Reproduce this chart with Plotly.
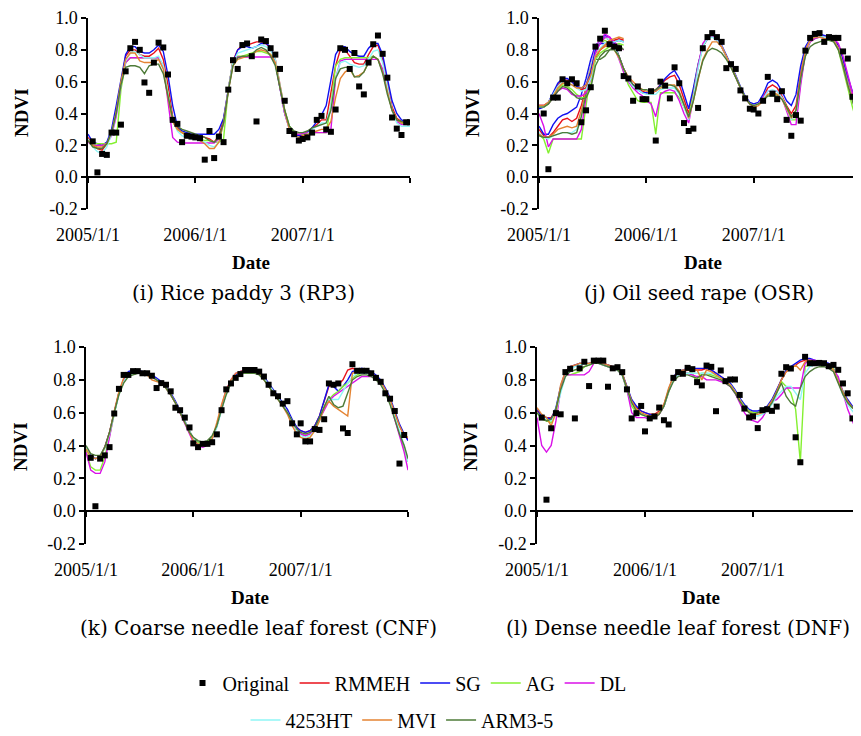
import datetime as dt
import plotly.graph_objects as go

# ---------------- categories (MODIS 16-day composite dates) ----------------
YEARS = [2005, 2006, 2007]
COMPOSITE_DOY = [1, 17, 33, 49, 65, 81, 97, 113, 129, 145, 161, 177, 193,
                 209, 225, 241, 257, 273, 289, 305, 321, 337, 353]
DATES = [(dt.date(y, 1, 1) + dt.timedelta(days=d - 1)).isoformat()
         for y in YEARS for d in COMPOSITE_DOY] + ["2008-01-01"]

SERIES_NAMES = ["RMMEH", "SG", "AG", "DL", "4253HT", "MVI", "ARM3-5"]
X_TICK_VALUES = ["2005-01-01", "2006-01-01", "2007-01-01"]
X_TICK_LABELS = ["2005/1/1", "2006/1/1", "2007/1/1"]
Y_TICK_VALUES = [-0.2, 0.0, 0.2, 0.4, 0.6, 0.8, 1.0]
Y_TICK_LABELS = ["-0.2", "0.0", "0.2", "0.4", "0.6", "0.8", "1.0"]

# ---------------- (i) Rice paddy 3 ----------------
RP3_ORIGINAL = [None, 0.225, 0.03, 0.146, 0.14, 0.28, 0.28, 0.33, 0.665, 0.81, 0.85, 0.80, 0.595, 0.53, 0.72, 0.845, 0.815, 0.645, 0.36, 0.335, 0.22, 0.26, 0.255,
                0.25, 0.245, 0.11, 0.29, 0.12, 0.255, 0.22, 0.55, 0.735, 0.68, 0.83, 0.84, 0.76, 0.35, 0.865, 0.855, 0.81, 0.77, 0.68, 0.48, 0.29, 0.27, 0.23,
                0.24, 0.25, 0.28, 0.36, 0.385, 0.30, 0.285, 0.425, 0.81, 0.80, 0.68, 0.78, 0.57, 0.52, 0.72, 0.835, 0.89, 0.775, 0.625, 0.375, 0.305, 0.265, 0.345,
                0.345]
RP3_RMMEH = [0.25, 0.20, 0.18, 0.17, 0.21, 0.28, 0.42, 0.60, 0.76, 0.80, 0.80, 0.77, 0.76, 0.76, 0.78, 0.81, 0.74, 0.58, 0.38, 0.31,
             0.28, 0.27, 0.26, 0.26, 0.26, 0.25, 0.24, 0.22, 0.26, 0.36, 0.56, 0.73, 0.80, 0.83, 0.83, 0.84, 0.85, 0.85, 0.84, 0.81, 0.74,
             0.58, 0.42, 0.31, 0.27, 0.26, 0.26, 0.28, 0.31, 0.33, 0.36, 0.36, 0.52, 0.70, 0.80, 0.80, 0.76, 0.72, 0.71, 0.71, 0.77, 0.82, 0.83,
             0.74, 0.59, 0.44, 0.37, 0.35, 0.34, 0.34]
RP3_SG = [0.27, 0.22, 0.21, 0.20, 0.22, 0.30, 0.45, 0.62, 0.77, 0.82, 0.82, 0.79, 0.78, 0.78, 0.80, 0.83, 0.79, 0.64, 0.45, 0.32,
          0.29, 0.28, 0.27, 0.27, 0.27, 0.27, 0.27, 0.27, 0.30, 0.37, 0.55, 0.72, 0.80, 0.82, 0.82, 0.81, 0.82, 0.84, 0.84, 0.82, 0.72,
          0.55, 0.40, 0.31, 0.27, 0.26, 0.27, 0.28, 0.31, 0.35, 0.39, 0.45, 0.60, 0.77, 0.82, 0.82, 0.79, 0.77, 0.76, 0.76, 0.81, 0.84, 0.84,
          0.77, 0.62, 0.48, 0.40, 0.36, 0.35, 0.35]
RP3_AG = [0.23, 0.21, 0.21, 0.21, 0.21, 0.21, 0.22, 0.55, 0.72, 0.75, 0.75, 0.75, 0.75, 0.75, 0.75, 0.75, 0.70, 0.52, 0.35, 0.30,
          0.28, 0.27, 0.26, 0.25, 0.24, 0.23, 0.23, 0.22, 0.22, 0.24, 0.55, 0.73, 0.76, 0.76, 0.77, 0.78, 0.79, 0.79, 0.78, 0.77, 0.72,
          0.58, 0.42, 0.32, 0.28, 0.27, 0.27, 0.28, 0.28, 0.28, 0.28, 0.28, 0.45, 0.70, 0.74, 0.75, 0.75, 0.75, 0.75, 0.75, 0.75, 0.76, 0.74,
          0.67, 0.54, 0.42, 0.36, 0.34, 0.33, 0.33]
RP3_DL = [0.22, 0.20, 0.20, 0.20, 0.21, 0.26, 0.38, 0.58, 0.72, 0.75, 0.75, 0.75, 0.75, 0.75, 0.75, 0.75, 0.70, 0.48, 0.25, 0.22,
          0.215, 0.215, 0.215, 0.215, 0.215, 0.215, 0.215, 0.215, 0.24, 0.34, 0.55, 0.72, 0.755, 0.755, 0.755, 0.755, 0.755, 0.755, 0.755, 0.755, 0.72,
          0.55, 0.40, 0.30, 0.27, 0.27, 0.275, 0.28, 0.28, 0.28, 0.28, 0.28, 0.30, 0.62, 0.73, 0.74, 0.74, 0.74, 0.74, 0.74, 0.74, 0.74, 0.74,
          0.68, 0.55, 0.42, 0.35, 0.33, 0.33, 0.33]
RP3_HT = [0.24, 0.19, 0.16, 0.15, 0.19, 0.27, 0.40, 0.58, 0.73, 0.78, 0.79, 0.77, 0.75, 0.75, 0.75, 0.76, 0.70, 0.52, 0.36, 0.29,
          0.26, 0.25, 0.24, 0.24, 0.23, 0.22, 0.20, 0.19, 0.22, 0.34, 0.55, 0.72, 0.78, 0.79, 0.80, 0.81, 0.82, 0.83, 0.82, 0.80, 0.74,
          0.58, 0.41, 0.30, 0.26, 0.25, 0.25, 0.27, 0.30, 0.32, 0.34, 0.34, 0.45, 0.62, 0.72, 0.73, 0.71, 0.70, 0.69, 0.70, 0.74, 0.79, 0.80,
          0.72, 0.57, 0.42, 0.34, 0.32, 0.32, 0.32]
RP3_MVI = [0.23, 0.20, 0.19, 0.19, 0.21, 0.28, 0.41, 0.60, 0.74, 0.78, 0.78, 0.73, 0.72, 0.72, 0.72, 0.74, 0.68, 0.50, 0.35, 0.30,
           0.28, 0.26, 0.25, 0.24, 0.23, 0.21, 0.18, 0.18, 0.22, 0.34, 0.54, 0.70, 0.74, 0.75, 0.76, 0.77, 0.79, 0.80, 0.79, 0.77, 0.72,
           0.57, 0.41, 0.30, 0.26, 0.25, 0.26, 0.27, 0.28, 0.29, 0.30, 0.30, 0.35, 0.50, 0.62, 0.66, 0.68, 0.63, 0.64, 0.66, 0.72, 0.76, 0.74,
           0.66, 0.53, 0.42, 0.36, 0.34, 0.34, 0.34]
RP3_ARM = [0.23, 0.19, 0.18, 0.18, 0.21, 0.28, 0.40, 0.58, 0.69, 0.70, 0.70, 0.69, 0.65, 0.70, 0.71, 0.71, 0.65, 0.50, 0.37, 0.32,
           0.30, 0.29, 0.28, 0.27, 0.26, 0.25, 0.23, 0.22, 0.25, 0.34, 0.54, 0.70, 0.75, 0.76, 0.76, 0.77, 0.80, 0.815, 0.80, 0.76, 0.70,
           0.56, 0.42, 0.32, 0.29, 0.28, 0.28, 0.29, 0.31, 0.32, 0.33, 0.34, 0.42, 0.62, 0.68, 0.69, 0.69, 0.63, 0.63, 0.66, 0.72, 0.76, 0.74,
           0.65, 0.52, 0.42, 0.36, 0.35, 0.34, 0.34]

# ---------------- (j) Oil seed rape ----------------
OSR_ORIGINAL = [None, 0.40, 0.05, 0.50, 0.50, 0.615, 0.59, 0.615, 0.59, 0.345, 0.42, 0.565, 0.82, 0.87, 0.92, 0.835, 0.82, 0.81, 0.635, 0.62, 0.48, 0.57, 0.49,
                0.49, 0.54, 0.23, 0.60, 0.575, 0.495, 0.69, 0.59, 0.34, 0.29, 0.305, 0.435, 0.81, 0.88, 0.905, 0.88, 0.85, 0.685, 0.71, 0.68, 0.545, 0.495, 0.43,
                0.425, 0.40, 0.48, 0.63, 0.525, 0.49, 0.54, 0.36, 0.26, 0.39, 0.355, 0.795, 0.875, 0.90, 0.905, 0.85, 0.88, 0.875, 0.875, 0.79, 0.745, 0.505, 0.385,
                None]
OSR_RMMEH = [0.30, 0.26, 0.25, 0.28, 0.32, 0.36, 0.37, 0.35, 0.37, 0.45, 0.56, 0.70, 0.80, 0.84, 0.88, 0.86, 0.83, 0.76, 0.68, 0.62, 0.58, 0.56, 0.54,
             0.53, 0.53, 0.55, 0.58, 0.61, 0.63, 0.64, 0.58, 0.49, 0.40, 0.54, 0.70, 0.82, 0.87, 0.89, 0.86, 0.82, 0.76, 0.70, 0.63, 0.56, 0.50, 0.46,
             0.45, 0.46, 0.50, 0.56, 0.58, 0.56, 0.51, 0.45, 0.40, 0.45, 0.65, 0.80, 0.86, 0.88, 0.89, 0.88, 0.88, 0.87, 0.82, 0.72, 0.60, 0.50, 0.42, 0.35]
OSR_SG = [0.32, 0.27, 0.27, 0.33, 0.37, 0.39, 0.40, 0.42, 0.44, 0.52, 0.62, 0.74, 0.83, 0.85, 0.89, 0.88, 0.84, 0.76, 0.68, 0.62, 0.58, 0.55, 0.53,
          0.53, 0.53, 0.54, 0.58, 0.62, 0.65, 0.67, 0.62, 0.52, 0.43, 0.56, 0.71, 0.82, 0.87, 0.90, 0.87, 0.83, 0.77, 0.71, 0.64, 0.57, 0.51, 0.47,
          0.46, 0.47, 0.52, 0.59, 0.61, 0.59, 0.54, 0.48, 0.45, 0.52, 0.70, 0.82, 0.87, 0.89, 0.90, 0.89, 0.88, 0.87, 0.83, 0.74, 0.63, 0.53, 0.44, 0.38]
OSR_AG = [0.27, 0.24, 0.15, 0.24, 0.24, 0.24, 0.24, 0.24, 0.24, 0.24, 0.45, 0.66, 0.80, 0.84, 0.86, 0.84, 0.82, 0.76, 0.66, 0.58, 0.53, 0.48, 0.47,
          0.47, 0.47, 0.27, 0.53, 0.53, 0.53, 0.53, 0.50, 0.44, 0.38, 0.52, 0.70, 0.82, 0.88, 0.89, 0.86, 0.82, 0.76, 0.70, 0.63, 0.56, 0.50, 0.46,
          0.45, 0.46, 0.49, 0.52, 0.52, 0.52, 0.50, 0.44, 0.36, 0.36, 0.60, 0.78, 0.85, 0.87, 0.88, 0.88, 0.88, 0.86, 0.80, 0.68, 0.55, 0.44, 0.34, 0.25]
OSR_DL = [0.40, 0.32, 0.19, 0.24, 0.24, 0.24, 0.24, 0.24, 0.24, 0.30, 0.50, 0.70, 0.82, 0.86, 0.90, 0.88, 0.82, 0.74, 0.66, 0.60, 0.56, 0.53, 0.51,
          0.48, 0.46, 0.38, 0.52, 0.54, 0.55, 0.54, 0.48, 0.40, 0.34, 0.50, 0.70, 0.84, 0.88, 0.89, 0.86, 0.82, 0.76, 0.70, 0.63, 0.56, 0.50, 0.46,
          0.45, 0.46, 0.50, 0.54, 0.54, 0.54, 0.50, 0.42, 0.33, 0.33, 0.58, 0.78, 0.85, 0.87, 0.88, 0.88, 0.88, 0.87, 0.84, 0.76, 0.64, 0.53, 0.44, 0.38]
OSR_HT = [0.28, 0.25, 0.24, 0.26, 0.27, 0.28, 0.28, 0.28, 0.30, 0.40, 0.55, 0.70, 0.80, 0.85, 0.88, 0.86, 0.82, 0.75, 0.67, 0.61, 0.57, 0.55, 0.53,
          0.52, 0.52, 0.52, 0.55, 0.56, 0.56, 0.56, 0.52, 0.44, 0.36, 0.50, 0.68, 0.82, 0.87, 0.88, 0.86, 0.82, 0.76, 0.70, 0.63, 0.56, 0.50, 0.46,
          0.45, 0.46, 0.49, 0.54, 0.55, 0.54, 0.50, 0.43, 0.36, 0.40, 0.62, 0.79, 0.86, 0.88, 0.89, 0.88, 0.87, 0.86, 0.81, 0.70, 0.58, 0.48, 0.38, 0.30]
OSR_MVI = [0.27, 0.25, 0.25, 0.27, 0.30, 0.31, 0.32, 0.31, 0.32, 0.42, 0.55, 0.68, 0.78, 0.80, 0.82, 0.83, 0.80, 0.75, 0.68, 0.63, 0.60, 0.57, 0.55,
           0.54, 0.53, 0.54, 0.56, 0.57, 0.58, 0.58, 0.54, 0.46, 0.37, 0.48, 0.62, 0.74, 0.80, 0.85, 0.85, 0.82, 0.76, 0.70, 0.63, 0.56, 0.50, 0.46,
           0.44, 0.45, 0.48, 0.52, 0.53, 0.52, 0.49, 0.43, 0.37, 0.42, 0.64, 0.80, 0.86, 0.88, 0.88, 0.87, 0.87, 0.86, 0.81, 0.70, 0.58, 0.48, 0.40, 0.32]
OSR_ARM = [0.26, 0.25, 0.25, 0.26, 0.27, 0.28, 0.28, 0.27, 0.28, 0.38, 0.52, 0.66, 0.74, 0.74, 0.76, 0.80, 0.80, 0.76, 0.68, 0.62, 0.58, 0.56, 0.55,
           0.55, 0.54, 0.55, 0.57, 0.58, 0.58, 0.57, 0.53, 0.46, 0.38, 0.48, 0.62, 0.73, 0.79, 0.81, 0.80, 0.78, 0.74, 0.69, 0.63, 0.56, 0.50, 0.46,
           0.45, 0.46, 0.48, 0.51, 0.51, 0.51, 0.49, 0.44, 0.38, 0.42, 0.62, 0.76, 0.82, 0.84, 0.85, 0.86, 0.86, 0.85, 0.80, 0.70, 0.58, 0.48, 0.38, 0.30]
# second (early-2005) set of curves drawn in the OSR panel, first 19 dates
OSR_EARLY_RMMEH = [0.45, 0.45, 0.47, 0.52, 0.58, 0.61, 0.61, 0.60, 0.57, 0.55, 0.56, 0.62, 0.75, 0.80, 0.83, 0.85, 0.86, 0.87, 0.86]
OSR_EARLY_SG = [0.43, 0.44, 0.47, 0.53, 0.59, 0.62, 0.62, 0.60, 0.57, 0.56, 0.58, 0.66, 0.80, 0.84, 0.84, 0.84, 0.85, 0.86, 0.85]
OSR_EARLY_AG = [0.44, 0.44, 0.46, 0.50, 0.55, 0.58, 0.57, 0.55, 0.52, 0.50, 0.50, 0.58, 0.74, 0.78, 0.80, 0.82, 0.83, 0.84, 0.83]
OSR_EARLY_DL = [0.45, 0.45, 0.46, 0.50, 0.54, 0.56, 0.55, 0.52, 0.51, 0.51, 0.53, 0.62, 0.78, 0.84, 0.88, 0.88, 0.85, 0.82, 0.80]
OSR_EARLY_HT = [0.44, 0.44, 0.47, 0.52, 0.57, 0.60, 0.60, 0.58, 0.56, 0.54, 0.55, 0.62, 0.76, 0.81, 0.84, 0.85, 0.85, 0.86, 0.85]
OSR_EARLY_MVI = [0.45, 0.45, 0.47, 0.51, 0.56, 0.59, 0.59, 0.58, 0.56, 0.56, 0.58, 0.64, 0.76, 0.80, 0.83, 0.86, 0.87, 0.88, 0.87]
OSR_EARLY_ARM = [0.44, 0.44, 0.46, 0.50, 0.54, 0.57, 0.56, 0.53, 0.50, 0.49, 0.50, 0.56, 0.70, 0.76, 0.79, 0.80, 0.82, 0.83, 0.80]

# ---------------- (k) Coarse needle leaf forest ----------------
CNF_ORIGINAL = [None, 0.325, 0.03, 0.32, 0.34, 0.39, 0.595, 0.745, 0.83, 0.83, 0.853, 0.853, 0.84, 0.84, 0.825, 0.75, 0.78, 0.77, 0.73, 0.63, 0.615, 0.57, 0.51,
                0.413, 0.39, 0.41, 0.41, 0.42, 0.468, 0.615, 0.742, 0.778, 0.812, 0.835, 0.86, 0.86, 0.86, 0.85, 0.82, 0.77, 0.718, 0.70, 0.655, 0.67, 0.535, 0.468,
                0.535, 0.425, 0.425, 0.50, 0.495, 0.56, 0.778, 0.77, 0.778, 0.504, 0.476, 0.895, 0.855, 0.855, 0.855, 0.84, 0.812, 0.788, 0.718, 0.685, 0.61, 0.29, 0.464,
                None]
CNF_RMMEH = [0.38, 0.34, 0.32, 0.33, 0.39, 0.48, 0.60, 0.72, 0.80, 0.84, 0.85, 0.85, 0.84, 0.84, 0.82, 0.80, 0.78, 0.75, 0.71, 0.66, 0.60, 0.54, 0.48,
             0.44, 0.41, 0.40, 0.41, 0.44, 0.52, 0.63, 0.73, 0.79, 0.83, 0.85, 0.86, 0.86, 0.85, 0.84, 0.81, 0.77, 0.73, 0.69, 0.65, 0.61, 0.55, 0.51,
             0.49, 0.48, 0.49, 0.52, 0.58, 0.67, 0.76, 0.77, 0.77, 0.80, 0.86, 0.87, 0.86, 0.86, 0.85, 0.84, 0.82, 0.79, 0.74, 0.68, 0.60, 0.52, 0.46, 0.44]
CNF_SG = [0.38, 0.34, 0.32, 0.33, 0.39, 0.48, 0.60, 0.72, 0.80, 0.85, 0.86, 0.86, 0.85, 0.84, 0.83, 0.81, 0.79, 0.76, 0.72, 0.67, 0.61, 0.55, 0.49,
          0.44, 0.42, 0.41, 0.42, 0.45, 0.52, 0.63, 0.73, 0.79, 0.83, 0.85, 0.86, 0.86, 0.86, 0.85, 0.82, 0.78, 0.74, 0.70, 0.66, 0.62, 0.56, 0.51,
          0.49, 0.48, 0.49, 0.52, 0.58, 0.68, 0.77, 0.76, 0.73, 0.76, 0.80, 0.85, 0.86, 0.87, 0.86, 0.85, 0.83, 0.80, 0.75, 0.69, 0.61, 0.53, 0.47, 0.43]
CNF_AG = [0.37, 0.27, 0.25, 0.25, 0.33, 0.46, 0.60, 0.72, 0.80, 0.83, 0.84, 0.84, 0.84, 0.83, 0.82, 0.80, 0.78, 0.75, 0.71, 0.66, 0.60, 0.54, 0.48,
          0.44, 0.42, 0.41, 0.42, 0.45, 0.52, 0.63, 0.73, 0.79, 0.82, 0.84, 0.85, 0.85, 0.85, 0.84, 0.81, 0.77, 0.73, 0.69, 0.65, 0.60, 0.54, 0.49,
          0.47, 0.46, 0.47, 0.50, 0.56, 0.64, 0.68, 0.71, 0.73, 0.76, 0.78, 0.81, 0.83, 0.84, 0.84, 0.83, 0.81, 0.78, 0.73, 0.66, 0.57, 0.47, 0.38, 0.30]
CNF_DL = [0.36, 0.25, 0.23, 0.23, 0.30, 0.45, 0.60, 0.72, 0.80, 0.84, 0.85, 0.85, 0.84, 0.84, 0.82, 0.80, 0.78, 0.75, 0.71, 0.66, 0.60, 0.53, 0.47,
          0.42, 0.40, 0.39, 0.40, 0.44, 0.52, 0.64, 0.74, 0.80, 0.84, 0.85, 0.86, 0.86, 0.85, 0.84, 0.81, 0.77, 0.73, 0.69, 0.65, 0.60, 0.54, 0.49,
          0.47, 0.46, 0.47, 0.50, 0.56, 0.62, 0.67, 0.70, 0.72, 0.74, 0.76, 0.78, 0.80, 0.82, 0.82, 0.82, 0.81, 0.78, 0.73, 0.66, 0.56, 0.46, 0.36, 0.25]
CNF_HT = [0.39, 0.33, 0.32, 0.33, 0.38, 0.47, 0.59, 0.71, 0.79, 0.83, 0.84, 0.84, 0.84, 0.83, 0.82, 0.80, 0.78, 0.75, 0.71, 0.66, 0.60, 0.54, 0.48,
          0.44, 0.41, 0.40, 0.41, 0.44, 0.51, 0.62, 0.72, 0.78, 0.82, 0.84, 0.85, 0.85, 0.85, 0.84, 0.81, 0.77, 0.73, 0.69, 0.65, 0.60, 0.54, 0.49,
          0.46, 0.45, 0.46, 0.49, 0.55, 0.64, 0.68, 0.68, 0.68, 0.73, 0.78, 0.82, 0.84, 0.84, 0.84, 0.83, 0.81, 0.78, 0.73, 0.66, 0.58, 0.49, 0.40, 0.30]
CNF_MVI = [0.38, 0.33, 0.32, 0.33, 0.39, 0.48, 0.61, 0.73, 0.81, 0.84, 0.85, 0.85, 0.84, 0.83, 0.80, 0.79, 0.78, 0.75, 0.71, 0.66, 0.60, 0.53, 0.47,
           0.43, 0.41, 0.40, 0.41, 0.44, 0.54, 0.65, 0.74, 0.80, 0.84, 0.85, 0.86, 0.86, 0.85, 0.84, 0.80, 0.76, 0.72, 0.68, 0.64, 0.59, 0.52, 0.47,
           0.45, 0.44, 0.45, 0.49, 0.55, 0.63, 0.67, 0.64, 0.62, 0.60, 0.58, 0.84, 0.85, 0.85, 0.85, 0.84, 0.82, 0.79, 0.74, 0.68, 0.60, 0.52, 0.46, 0.45]
CNF_ARM = [0.40, 0.35, 0.34, 0.34, 0.39, 0.48, 0.60, 0.71, 0.78, 0.82, 0.83, 0.84, 0.84, 0.83, 0.82, 0.80, 0.78, 0.75, 0.71, 0.66, 0.60, 0.54, 0.48,
           0.45, 0.43, 0.42, 0.43, 0.46, 0.52, 0.62, 0.71, 0.78, 0.82, 0.84, 0.84, 0.84, 0.84, 0.83, 0.80, 0.76, 0.72, 0.68, 0.64, 0.60, 0.55, 0.50,
           0.48, 0.47, 0.48, 0.51, 0.57, 0.64, 0.70, 0.65, 0.63, 0.64, 0.72, 0.80, 0.82, 0.83, 0.83, 0.82, 0.80, 0.77, 0.72, 0.65, 0.56, 0.47, 0.40, 0.32]

# ---------------- (l) Dense needle leaf forest ----------------
DNF_ORIGINAL = [None, 0.57, 0.07, 0.505, 0.597, 0.59, 0.847, 0.867, 0.565, 0.87, 0.91, 0.762, 0.917, 0.917, 0.917, 0.758, 0.87, 0.877, 0.847, 0.742, 0.565, 0.597, 0.641,
                0.486, 0.565, 0.577, 0.631, 0.554, 0.528, 0.812, 0.847, 0.837, 0.873, 0.865, 0.786, 0.766, 0.887, 0.879, 0.609, 0.857, 0.792, 0.802, 0.802, 0.708, 0.625, 0.571,
                0.577, 0.506, 0.615, 0.621, 0.611, 0.637, 0.837, 0.877, 0.869, 0.45, 0.298, 0.94, 0.901, 0.901, 0.903, 0.901, 0.883, 0.891, 0.861, 0.778, 0.718, 0.565, 0.617,
                0.617]
DNF_RMMEH = [0.61, 0.58, 0.57, 0.57, 0.62, 0.75, 0.84, 0.88, 0.89, 0.90, 0.90, 0.90, 0.91, 0.91, 0.90, 0.89, 0.88, 0.87, 0.84, 0.75, 0.67, 0.63, 0.61,
             0.60, 0.59, 0.59, 0.61, 0.65, 0.74, 0.82, 0.84, 0.85, 0.86, 0.86, 0.86, 0.86, 0.87, 0.86, 0.84, 0.82, 0.80, 0.77, 0.73, 0.68, 0.64, 0.61,
             0.60, 0.60, 0.61, 0.63, 0.67, 0.73, 0.80, 0.85, 0.87, 0.89, 0.91, 0.92, 0.92, 0.91, 0.90, 0.90, 0.89, 0.86, 0.79, 0.72, 0.67, 0.63, 0.61, 0.60]
DNF_SG = [0.62, 0.58, 0.57, 0.56, 0.63, 0.76, 0.85, 0.88, 0.89, 0.90, 0.90, 0.90, 0.91, 0.91, 0.90, 0.89, 0.88, 0.87, 0.84, 0.76, 0.68, 0.64, 0.61,
          0.60, 0.59, 0.58, 0.60, 0.64, 0.74, 0.82, 0.85, 0.86, 0.87, 0.87, 0.87, 0.87, 0.87, 0.86, 0.84, 0.82, 0.80, 0.78, 0.74, 0.69, 0.65, 0.62,
          0.61, 0.61, 0.62, 0.64, 0.68, 0.74, 0.81, 0.86, 0.88, 0.90, 0.92, 0.93, 0.93, 0.92, 0.91, 0.91, 0.90, 0.87, 0.80, 0.73, 0.68, 0.64, 0.61, 0.60]
DNF_AG = [0.60, 0.56, 0.55, 0.54, 0.62, 0.75, 0.83, 0.83, 0.84, 0.85, 0.88, 0.89, 0.90, 0.90, 0.89, 0.88, 0.87, 0.86, 0.83, 0.74, 0.64, 0.60, 0.59,
          0.58, 0.57, 0.57, 0.59, 0.64, 0.73, 0.81, 0.84, 0.84, 0.84, 0.84, 0.78, 0.84, 0.84, 0.83, 0.82, 0.81, 0.79, 0.77, 0.73, 0.68, 0.64, 0.61,
          0.60, 0.60, 0.61, 0.63, 0.67, 0.72, 0.79, 0.76, 0.72, 0.62, 0.30, 0.88, 0.89, 0.89, 0.89, 0.89, 0.89, 0.87, 0.80, 0.72, 0.66, 0.63, 0.61, 0.60]
DNF_DL = [0.57, 0.40, 0.36, 0.40, 0.55, 0.74, 0.83, 0.83, 0.83, 0.83, 0.83, 0.85, 0.90, 0.90, 0.89, 0.88, 0.87, 0.86, 0.83, 0.74, 0.60, 0.57, 0.57,
          0.57, 0.56, 0.57, 0.59, 0.64, 0.73, 0.80, 0.83, 0.84, 0.84, 0.83, 0.82, 0.82, 0.80, 0.80, 0.80, 0.79, 0.78, 0.76, 0.72, 0.66, 0.60, 0.56,
          0.55, 0.54, 0.57, 0.62, 0.67, 0.68, 0.71, 0.75, 0.75, 0.75, 0.75, 0.90, 0.92, 0.92, 0.91, 0.90, 0.88, 0.86, 0.82, 0.72, 0.62, 0.55, 0.48, 0.42]
DNF_HT = [0.60, 0.57, 0.56, 0.55, 0.60, 0.72, 0.82, 0.86, 0.88, 0.89, 0.90, 0.90, 0.90, 0.90, 0.89, 0.88, 0.87, 0.86, 0.83, 0.74, 0.66, 0.62, 0.60,
          0.58, 0.58, 0.58, 0.60, 0.64, 0.73, 0.80, 0.83, 0.84, 0.84, 0.84, 0.84, 0.84, 0.84, 0.84, 0.83, 0.81, 0.79, 0.77, 0.73, 0.68, 0.63, 0.60,
          0.58, 0.58, 0.59, 0.61, 0.65, 0.70, 0.73, 0.76, 0.76, 0.72, 0.68, 0.84, 0.88, 0.89, 0.89, 0.89, 0.88, 0.86, 0.79, 0.71, 0.65, 0.61, 0.58, 0.57]
DNF_MVI = [0.63, 0.59, 0.57, 0.52, 0.60, 0.77, 0.85, 0.88, 0.89, 0.90, 0.90, 0.90, 0.91, 0.91, 0.90, 0.89, 0.88, 0.87, 0.84, 0.76, 0.67, 0.62, 0.60,
           0.59, 0.58, 0.58, 0.60, 0.65, 0.75, 0.82, 0.84, 0.86, 0.86, 0.86, 0.86, 0.80, 0.86, 0.85, 0.83, 0.81, 0.79, 0.77, 0.73, 0.68, 0.63, 0.60,
           0.59, 0.59, 0.60, 0.63, 0.67, 0.73, 0.80, 0.85, 0.87, 0.89, 0.86, 0.91, 0.92, 0.91, 0.90, 0.90, 0.89, 0.86, 0.79, 0.72, 0.67, 0.63, 0.61, 0.60]
DNF_ARM = [0.60, 0.57, 0.55, 0.56, 0.62, 0.74, 0.82, 0.85, 0.86, 0.87, 0.88, 0.89, 0.90, 0.90, 0.89, 0.88, 0.87, 0.86, 0.83, 0.74, 0.66, 0.61, 0.59,
           0.58, 0.57, 0.57, 0.59, 0.64, 0.73, 0.79, 0.82, 0.83, 0.83, 0.82, 0.81, 0.83, 0.83, 0.82, 0.81, 0.80, 0.78, 0.76, 0.72, 0.67, 0.63, 0.60,
           0.59, 0.60, 0.61, 0.62, 0.66, 0.72, 0.78, 0.70, 0.66, 0.64, 0.75, 0.82, 0.85, 0.87, 0.88, 0.88, 0.87, 0.85, 0.78, 0.71, 0.66, 0.63, 0.61, 0.60]

# ---------------- styling ----------------
COLORS = {"RMMEH": "#E8101A", "SG": "#1010F0", "AG": "#84F030", "DL": "#DA10E8",
          "4253HT": "#8FF6F6", "MVI": "#E48332", "ARM3-5": "#4E7B38"}
FONT = "Liberation Serif"
CAPTION_FONT = "DejaVu Serif"
PAGE_OFFSET = 8          # default body margin of the page around the figure
W, H = 861 - PAGE_OFFSET, 736 - PAGE_OFFSET


def fx(p):
    return (p - PAGE_OFFSET) / W


def fy(p):
    return 1 - (p - PAGE_OFFSET) / H


PANELS = [
    dict(code="RP3", caption="(i) Rice paddy 3 (RP3)", xpx=(88, 410), ypx=(18, 209),
         ndvi=(22, 113), date=(251, 263), cap=(243, 293),
         orig=RP3_ORIGINAL, lines=[RP3_RMMEH, RP3_SG, RP3_AG, RP3_DL, RP3_HT, RP3_MVI, RP3_ARM], early=None),
    dict(code="OSR", caption="(j) Oil seed rape (OSR)", xpx=(539, 861), ypx=(18, 209),
         ndvi=(473, 113), date=(703, 263), cap=(699, 293),
         orig=OSR_ORIGINAL, lines=[OSR_RMMEH, OSR_SG, OSR_AG, OSR_DL, OSR_HT, OSR_MVI, OSR_ARM],
         early=[OSR_EARLY_RMMEH, OSR_EARLY_SG, OSR_EARLY_AG, OSR_EARLY_DL, OSR_EARLY_HT, OSR_EARLY_MVI, OSR_EARLY_ARM]),
    dict(code="CNF", caption="(k) Coarse needle leaf forest (CNF)", xpx=(86, 408), ypx=(347, 544),
         ndvi=(20, 447), date=(250, 597), cap=(258, 628),
         orig=CNF_ORIGINAL, lines=[CNF_RMMEH, CNF_SG, CNF_AG, CNF_DL, CNF_HT, CNF_MVI, CNF_ARM], early=None),
    dict(code="DNF", caption="(l) Dense needle leaf forest (DNF)", xpx=(537, 861), ypx=(347, 544),
         ndvi=(470, 447), date=(701, 597), cap=(678, 628),
         orig=DNF_ORIGINAL, lines=[DNF_RMMEH, DNF_SG, DNF_AG, DNF_DL, DNF_HT, DNF_MVI, DNF_ARM], early=None),
]

for p in PANELS:
    assert len(p["orig"]) == len(DATES), p["code"]
    for s in p["lines"]:
        assert len(s) == len(DATES), p["code"]

fig = go.Figure()
layout = dict(template="none", width=W, height=H,
              margin=dict(l=0, r=0, t=0, b=0, pad=0, autoexpand=False),
              paper_bgcolor="white", plot_bgcolor="white",
              font=dict(family=FONT, color="black", size=18), annotations=[])

for i, p in enumerate(PANELS, start=1):
    xa, ya, xo = f"x{i}", f"y{i}", f"x{i + 4}"
    xdom = [max(0.0, fx(p["xpx"][0])), min(1.0, fx(p["xpx"][1]))]
    ydom = [fy(p["ypx"][1]), fy(p["ypx"][0])]
    first = i == 1
    for k, name in enumerate(SERIES_NAMES):
        fig.add_trace(go.Scatter(
            x=DATES, y=p["lines"][k], mode="lines", name=name,
            line=dict(color=COLORS[name], width=1.4),
            xaxis=xa, yaxis=ya, legendgroup=name, showlegend=first,
            legend="legend" if k < 4 else "legend2", legendrank=k + 2,
            hoverinfo="skip"))
    if p["early"] is not None:
        for k, name in enumerate(SERIES_NAMES):
            fig.add_trace(go.Scatter(
                x=DATES[:len(p["early"][k])], y=p["early"][k], mode="lines", name=name,
                line=dict(color=COLORS[name], width=1.4),
                xaxis=xa, yaxis=ya, legendgroup=name, showlegend=False, hoverinfo="skip"))
    fig.add_trace(go.Scatter(
        x=DATES, y=p["orig"], mode="markers", name="Original",
        marker=dict(symbol="square", size=6, color="black"),
        xaxis=xo, yaxis=ya, legendgroup="Original", showlegend=first,
        legend="legend", legendrank=1, hoverinfo="skip"))

    layout[f"xaxis{i}"] = dict(
        domain=xdom, anchor=ya, type="date", range=["2005-01-01", "2008-01-01"],
        tickvals=X_TICK_VALUES, ticktext=X_TICK_LABELS, showline=False, ticks="",
        showgrid=False, zeroline=False, ticklabelstandoff=13, automargin=False,
        ticklabeloverflow="allow",
        tickfont=dict(family=FONT, size=18, color="black"))
    layout[f"xaxis{i + 4}"] = dict(
        overlaying=xa, anchor="free",
        position=ydom[0] + (ydom[1] - ydom[0]) * (0.2 / 1.2),
        type="date", range=["2005-01-01", "2008-01-01"],
        tickvals=["2005-01-01", "2006-01-01", "2007-01-01", "2008-01-01"],
        showticklabels=False, ticks="outside", ticklen=5, tickwidth=1.5, tickcolor="black",
        showline=True, linecolor="black", linewidth=1.5, showgrid=False, zeroline=False,
        automargin=False)
    layout[f"yaxis{i}"] = dict(
        domain=ydom, anchor=xa, range=[-0.2, 1.0],
        tickvals=Y_TICK_VALUES, ticktext=Y_TICK_LABELS,
        ticks="outside", ticklen=5, tickwidth=1.5, tickcolor="black",
        showline=True, linecolor="black", linewidth=1.5,
        showgrid=False, zeroline=False, automargin=False,
        ticklabeloverflow="allow",
        tickfont=dict(family=FONT, size=18, color="black"))
    layout["annotations"] += [
        dict(text="NDVI", x=fx(p["ndvi"][0]), y=fy(p["ndvi"][1]), xref="paper", yref="paper",
             showarrow=False, textangle=-90, xanchor="center", yanchor="middle",
             font=dict(family=FONT, size=19, color="black", weight="bold")),
        dict(text="Date", x=fx(p["date"][0]), y=fy(p["date"][1]), xref="paper", yref="paper",
             showarrow=False, xanchor="center", yanchor="middle",
             font=dict(family=FONT, size=19, color="black", weight="bold")),
        dict(text=p["caption"], x=fx(p["cap"][0]), y=fy(p["cap"][1]), xref="paper", yref="paper",
             showarrow=False, xanchor="center", yanchor="middle",
             font=dict(family=CAPTION_FONT, size=20, color="black")),
    ]

legend_common = dict(orientation="h", xanchor="center", yanchor="middle",
                     bgcolor="rgba(0,0,0,0)", font=dict(family=FONT, size=20, color="black"),
                     itemwidth=30, tracegroupgap=0)
layout["legend"] = dict(legend_common, x=fx(407), y=fy(683))
layout["legend2"] = dict(legend_common, x=fx(402), y=fy(720))

fig.update_layout(**layout)
fig.write_html("out.html")
